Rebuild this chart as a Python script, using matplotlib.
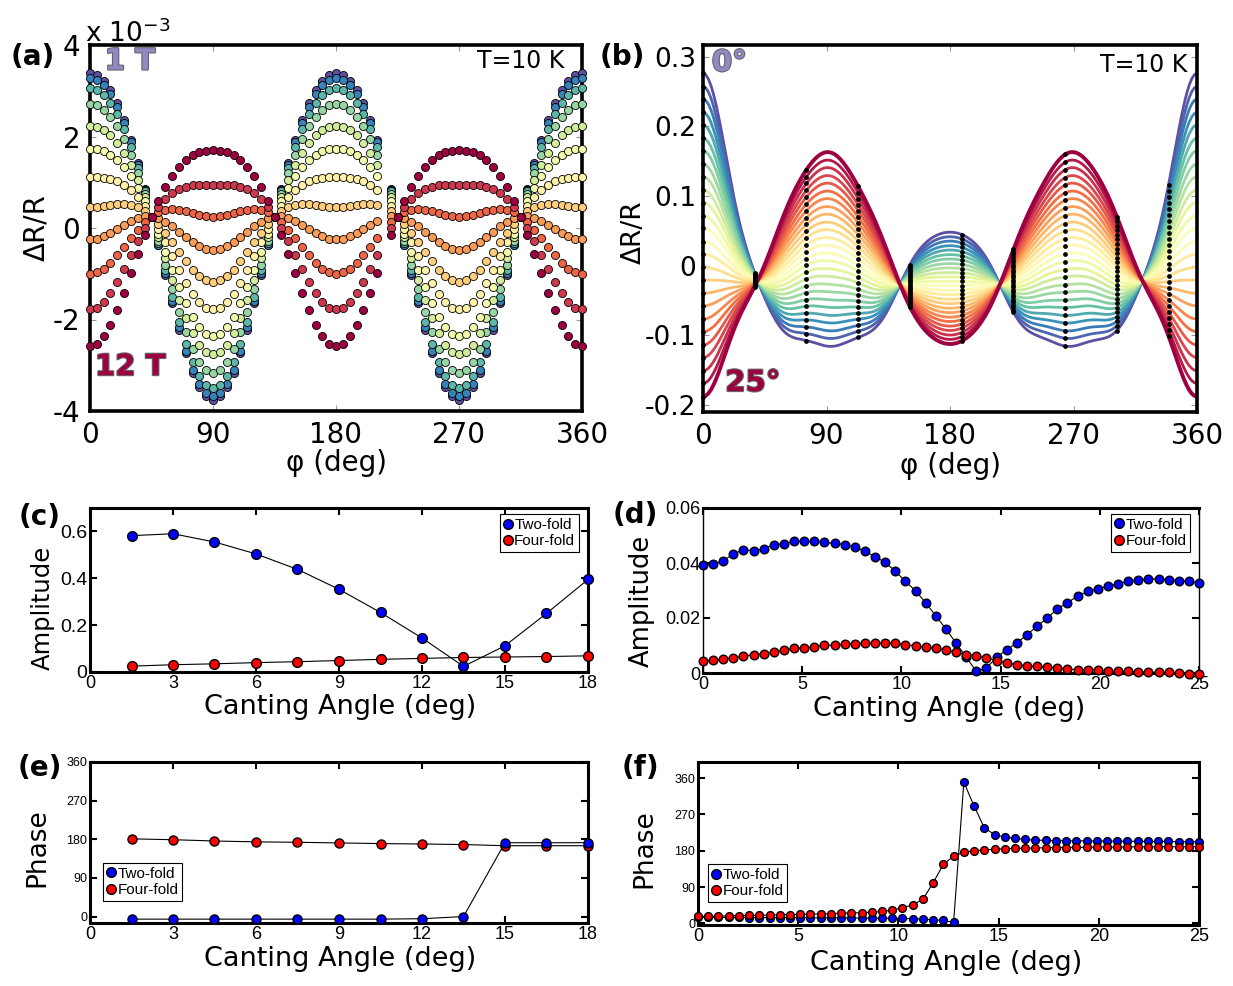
import numpy as np
import matplotlib
matplotlib.use('Agg')
import matplotlib.pyplot as plt
import matplotlib.patheffects as pe
from matplotlib.lines import Line2D

plt.rcParams['font.family'] = ['DejaVu Sans']
plt.rcParams['axes.unicode_minus'] = False

# ---------------- data ----------------
# (a) dR/R (x1e-3) at T=10 K for 1..12 T, read at phi = 0, 45 and 90 deg
fields = [1, 2, 3, 4, 5, 6, 7, 8, 9, 10, 11, 12]
dr_at_0 = [3.38, 3.28, 3.06, 2.71, 2.24, 1.73, 1.12, 0.46, -0.25, -1.00, -1.78, -2.58]
dr_at_45 = [0.25, 0.25, 0.25, 0.25, 0.25, 0.25, 0.25, 0.25, 0.25, 0.25, 0.25, 0.25]
dr_at_90 = [-3.75, -3.68, -3.49, -3.16, -2.76, -2.36, -1.78, -1.17, -0.48, 0.25, 0.95, 1.70]
phi_meas = np.r_[0:211:5, 220:361:5]

# (b) simulated curves, canting angle 0..25 deg
cant_b = list(range(26))
b_at_0 = [0.288, 0.268, 0.249, 0.229, 0.210, 0.190, 0.171, 0.151, 0.132, 0.112,
          0.093, 0.073, 0.054, 0.034, 0.015, -0.005, -0.024, -0.044, -0.063, -0.083,
          -0.102, -0.122, -0.141, -0.161, -0.180, -0.200]
b_phi_0deg = [0, 5, 10, 15, 20, 25, 30, 39, 48, 60, 70, 77, 90, 100, 107, 115, 125,
              136, 144, 150, 157, 163, 169, 175, 180]
b_val_0deg = [0.288, 0.258, 0.220, 0.172, 0.125, 0.080, 0.040, -0.022, -0.060, -0.093,
              -0.106, -0.110, -0.114, -0.112, -0.110, -0.102, -0.088, -0.060, -0.026, 0.000,
              0.021, 0.034, 0.043, 0.047, 0.048]
b_phi_25deg = [0, 5, 10, 15, 20, 25, 30, 39, 50, 60, 68, 75, 82, 90, 100, 107, 113, 122,
               132, 144, 151, 160, 170, 180]
b_val_25deg = [-0.200, -0.176, -0.152, -0.129, -0.106, -0.084, -0.062, -0.022, 0.030, 0.075,
               0.110, 0.142, 0.155, 0.160, 0.153, 0.136, 0.114, 0.080, 0.030, -0.026,
               -0.060, -0.090, -0.106, -0.112]

# (c),(e) measured fit amplitudes / phases
cant_c = [1.5, 3, 4.5, 6, 7.5, 9, 10.5, 12, 13.5, 15, 16.5, 18]
amp2_c = [0.582, 0.590, 0.555, 0.504, 0.438, 0.353, 0.254, 0.145, 0.024, 0.112, 0.250, 0.395]
amp4_c = [0.025, 0.031, 0.035, 0.040, 0.044, 0.049, 0.054, 0.058, 0.062, 0.064, 0.066, 0.069]
phase2_e = [-6, -6, -6, -6, -6, -6, -6, -5, 0, 172, 172, 172]
phase4_e = [181, 179, 176, 174, 173, 171.5, 170, 169, 167.7, 165, 165, 165]

# (d),(f) simulated amplitudes / phases
cant_d = np.linspace(0, 25, 50)
amp2_d = [0.0394, 0.0396, 0.0408, 0.0433, 0.0448, 0.0445, 0.0451, 0.0467, 0.0470, 0.0479,
          0.0479, 0.0479, 0.0475, 0.0471, 0.0467, 0.0457, 0.0442, 0.0423, 0.0402, 0.0370,
          0.0333, 0.0299, 0.0255, 0.0208, 0.0160, 0.0109, 0.0058, 0.0006, 0.0018, 0.0057,
          0.0085, 0.0109, 0.0139, 0.0170, 0.0200, 0.0232, 0.0256, 0.0279, 0.0297, 0.0307,
          0.0315, 0.0325, 0.0333, 0.0339, 0.0342, 0.0342, 0.0339, 0.0336, 0.0333, 0.0327]
amp4_d = [0.0042, 0.0046, 0.0052, 0.0055, 0.0061, 0.0067, 0.0070, 0.0076, 0.0082, 0.0091,
          0.0091, 0.0096, 0.0101, 0.0101, 0.0106, 0.0106, 0.0109, 0.0109, 0.0109, 0.0109,
          0.0103, 0.0099, 0.0093, 0.0091, 0.0082, 0.0075, 0.0067, 0.0063, 0.0055, 0.0045,
          0.0036, 0.0030, 0.0027, 0.0024, 0.0022, 0.0018, 0.0015, 0.0012, 0.0012, 0.0010,
          0.0008, 0.0006, 0.0006, 0.0004, 0.0004, 0.0002, 0.0002, 0.0000, -0.0002, -0.0004]
phase2_f = [14.7, 14.7, 14.7, 14.6, 14.6, 14.5, 14.5, 14.4, 14.3, 14.2,
            14.1, 14.0, 13.9, 13.8, 13.6, 13.4, 13.2, 13.0, 12.7, 12.4,
            12.2, 11.5, 10.6, 9.0, 7.3, 2.4, 350, 291, 237, 220,
            214, 210.6, 208, 206.5, 205.7, 205, 205, 204.5, 204.5, 204,
            204, 204, 203.5, 203.5, 203, 203, 203, 202.5, 202.5, 202]
phase4_f = [17.1, 17.6, 18.1, 18.6, 19.1, 19.6, 20.1, 20.6, 21.1, 21.7,
            22.3, 22.9, 23.5, 24.2, 24.9, 25.7, 26.6, 27.7, 29.5, 32.7,
            39.2, 45.7, 59.6, 101, 146, 167, 176, 180, 182, 183.5,
            185, 186, 186.5, 187, 187.5, 188, 188, 188.5, 188.5, 189,
            189, 189, 189.5, 189.5, 189.5, 190, 190, 190, 190, 190]

# ---------------- figure ----------------
W, H = 1233, 986
fig = plt.figure(figsize=(W / 100, H / 100), dpi=100)


def add_ax(l, t, r, b):
    return fig.add_axes([l / W, 1 - b / H, (r - l) / W, (b - t) / H])


cmap = plt.get_cmap('Spectral_r')
outline = [pe.withStroke(linewidth=1.6, foreground='#666666')]

# ---- (a) ----
ax = add_ax(90, 45, 582, 411)
y0 = np.array(dr_at_0); y45 = np.array(dr_at_45); y90 = np.array(dr_at_90)
a2 = (y0 - y90) / 2
a4 = ((y0 + y90) / 2 - y45) / 2
c0 = ((y0 + y90) / 2 + y45) / 2
ph = np.radians(phi_meas)
cols_a = cmap(np.linspace(0, 1, len(fields)))
for k in range(len(fields)):
    yy = a2[k] * np.cos(2 * ph) + a4[k] * np.cos(4 * ph) + c0[k]
    ax.scatter(phi_meas, yy, s=34, facecolor=cols_a[k], edgecolor='k', linewidth=0.6,
               zorder=3 + k, clip_on=False)
ax.set_xlim(0, 360)
ax.set_ylim(-4, 4)
ax.set_xticks([0, 90, 180, 270, 360])
ax.set_yticks([-4, -2, 0, 2, 4])
ax.set_xlabel('φ (deg)', fontsize=20)
ax.set_ylabel('ΔR/R', fontsize=20)
ax.xaxis.set_label_coords(0.5, -0.104)
ax.yaxis.set_label_coords(-0.081, 0.5)
ax.text(0.03, 0.955, '1 T', transform=ax.transAxes, fontsize=21, fontweight='bold',
        color='#8f89c6', va='center', path_effects=outline, zorder=30)
ax.text(0.01, 0.12, '12 T', transform=ax.transAxes, fontsize=21, fontweight='bold',
        color='#9e0142', va='center', path_effects=outline, zorder=30)
ax.text(0.965, 0.955, 'T=10 K', transform=ax.transAxes, fontsize=17, ha='right', va='center')
fig.text(85 / W, 1 - 42 / H, r'x 10$^{-3}$', fontsize=19, va='baseline')

# ---- (b) ----
bx = add_ax(703, 45, 1197, 412)


def cos_fit(phi_deg, vals, order=10):
    p = np.radians(np.asarray(phi_deg))
    A = np.stack([np.cos(n * p) for n in range(order + 1)], axis=1)
    coef = np.linalg.lstsq(A, np.asarray(vals), rcond=None)[0]
    return coef


def cos_eval(coef, phi_deg):
    p = np.radians(phi_deg)
    return sum(c * np.cos(n * p) for n, c in enumerate(coef))


phi_b = np.linspace(0, 360, 192)
curve0 = cos_eval(cos_fit(b_phi_0deg, b_val_0deg), phi_b)
curve25 = cos_eval(cos_fit(b_phi_25deg, b_val_25deg), phi_b)
cols_b = cmap(np.linspace(0, 1, len(cant_b)))
curves_b = []
for k in range(len(cant_b)):
    w = (b_at_0[0] - b_at_0[k]) / (b_at_0[0] - b_at_0[-1])
    yy = curve0 + w * (curve25 - curve0)
    curves_b.append(yy)
    bx.plot(phi_b, yy, color=cols_b[k], lw=2.8 if k == len(cant_b) - 1 else 2.0,
            zorder=2 + k * 0.01)
for yy in curves_b:
    bx.plot(phi_b[:-1:20], yy[:-1:20], 'o', color='k', ms=2.4, zorder=5, clip_on=False)
bx.set_xlim(0, 360)
bx.set_ylim(-0.21, 0.317)
bx.set_xticks([0, 90, 180, 270, 360])
bx.set_yticks([-0.2, -0.1, 0, 0.1, 0.2, 0.3])
bx.set_yticklabels(['-0.2', '-0.1', '0', '0.1', '0.2', '0.3'])
bx.set_xlabel('φ (deg)', fontsize=20)
bx.set_ylabel('ΔR/R', fontsize=19)
bx.xaxis.set_label_coords(0.5, -0.109)
bx.yaxis.set_label_coords(-0.113, 0.49)
bx.text(0.018, 0.951, '0°', transform=bx.transAxes, fontsize=21, fontweight='bold',
        color='#8f89c6', va='center', path_effects=outline, zorder=30)
bx.text(0.045, 0.079, '25°', transform=bx.transAxes, fontsize=21, fontweight='bold',
        color='#9e0142', va='center', path_effects=outline, zorder=30)
bx.text(0.98, 0.945, 'T=10 K', transform=bx.transAxes, fontsize=17, ha='right', va='center')

for a in (ax, bx):
    for s in a.spines.values():
        s.set_linewidth(2.6)
    a.tick_params(direction='in', length=4, width=0.8, color='0.6', labelsize=20, pad=7,
                  right=True, top=True)
bx.tick_params(axis='y', labelsize=19, pad=5)


# ---- (c)-(f) ----
def matlab_axes(a, xt, yt, ytl, ysize):
    for s in a.spines.values():
        s.set_linewidth(2.2)
    a.set_xticks(xt)
    a.set_xticklabels([str(v) for v in xt], fontfamily='Liberation Sans', fontsize=13)
    a.set_yticks(yt)
    a.set_yticklabels(ytl, fontfamily='Liberation Sans', fontsize=ysize)
    a.tick_params(direction='in', length=5, width=1.5, top=True, right=True, pad=2)


def legend(a, **kw):
    hs = [Line2D([], [], ls='none', marker='o', mfc='#0000ff', mec='k', ms=7, label='Two-fold'),
          Line2D([], [], ls='none', marker='o', mfc='#ff0000', mec='k', ms=7, label='Four-fold')]
    lg = a.legend(handles=hs, frameon=True, fancybox=False, edgecolor='k', framealpha=1,
                  prop={'family': 'Liberation Sans', 'size': 11}, handlelength=0.6,
                  handletextpad=0.1, borderpad=0.25, labelspacing=0.15, borderaxespad=0, **kw)
    lg.get_frame().set_linewidth(0.8)


def series(a, x, y, col, ms, z):
    a.plot(x, y, '-o', color='k', lw=0.8, mfc=col, mec='k', ms=ms, zorder=z, clip_on=False)


cx = add_ax(90, 508, 588, 672)
series(cx, cant_c, amp2_c, '#0000ff', 7, 3)
series(cx, cant_c, amp4_c, '#ff0000', 7, 4)
cx.set_xlim(0, 18)
cx.set_ylim(0, 0.7)
matlab_axes(cx, [0, 3, 6, 9, 12, 15, 18], [0, 0.2, 0.4, 0.6], ['0', '0.2', '0.4', '0.6'], 14)
cx.set_ylabel('Amplitude', fontsize=17.5)
cx.set_xlabel('Canting Angle (deg)', fontsize=19.5)
cx.yaxis.set_label_coords(-0.07, 0.39)
cx.xaxis.set_label_coords(0.502, -0.134)
legend(cx, loc='upper right', bbox_to_anchor=(0.982, 0.963))

dx = add_ax(703, 508, 1199, 673)
series(dx, cant_d, amp2_d, '#0000ff', 6.2, 3)
series(dx, cant_d, amp4_d, '#ff0000', 6.2, 4)
dx.set_xlim(0, 25)
dx.set_ylim(0, 0.06)
matlab_axes(dx, [0, 5, 10, 15, 20, 25], [0, 0.02, 0.04, 0.06], ['0', '0.02', '0.04', '0.06'], 13)
dx.spines['left'].set_linewidth(1.0)
dx.spines['right'].set_linewidth(1.0)
dx.set_ylabel('Amplitude', fontsize=18.5)
dx.set_xlabel('Canting Angle (deg)', fontsize=19.5)
dx.yaxis.set_label_coords(-0.097, 0.436)
dx.xaxis.set_label_coords(0.496, -0.139)
legend(dx, loc='upper right', bbox_to_anchor=(0.982, 0.964))

ex = add_ax(90, 762, 588, 923)
series(ex, cant_c, phase4_e, '#ff0000', 6.5, 3)
series(ex, cant_c, phase2_e, '#0000ff', 6.5, 4)
ex.set_xlim(0, 18)
ex.set_ylim(-15, 360)
matlab_axes(ex, [0, 3, 6, 9, 12, 15, 18], [0, 90, 180, 270, 360], ['0', '90', '180', '270', '360'], 9)
ex.set_ylabel('Phase', fontsize=19)
ex.set_xlabel('Canting Angle (deg)', fontsize=19.5)
ex.yaxis.set_label_coords(-0.08, 0.466)
ex.xaxis.set_label_coords(0.502, -0.143)
legend(ex, loc='lower left', bbox_to_anchor=(0.026, 0.137))

fx = add_ax(698, 762, 1199, 925)
series(fx, cant_d, phase2_f, '#0000ff', 5.6, 3)
series(fx, cant_d, phase4_f, '#ff0000', 5.6, 4)
fx.set_xlim(0, 25)
fx.set_ylim(-4, 400)
matlab_axes(fx, [0, 5, 10, 15, 20, 25], [0, 90, 180, 270, 360], ['0', '90', '180', '270', '360'], 9)
fx.set_ylabel('Phase', fontsize=19)
fx.set_xlabel('Canting Angle (deg)', fontsize=19.5)
fx.yaxis.set_label_coords(-0.082, 0.47)
fx.xaxis.set_label_coords(0.495, -0.153)
legend(fx, loc='lower left', bbox_to_anchor=(0.02, 0.141))

# panel letters
for lab, (px, py) in {'(a)': (33, 57), '(b)': (622, 57), '(c)': (40, 517),
                      '(d)': (635, 515), '(e)': (40, 768), '(f)': (640, 768)}.items():
    fig.text(px / W, 1 - py / H, lab, fontsize=20, fontweight='bold', ha='center', va='center')

fig.savefig('out.png', dpi=100)
